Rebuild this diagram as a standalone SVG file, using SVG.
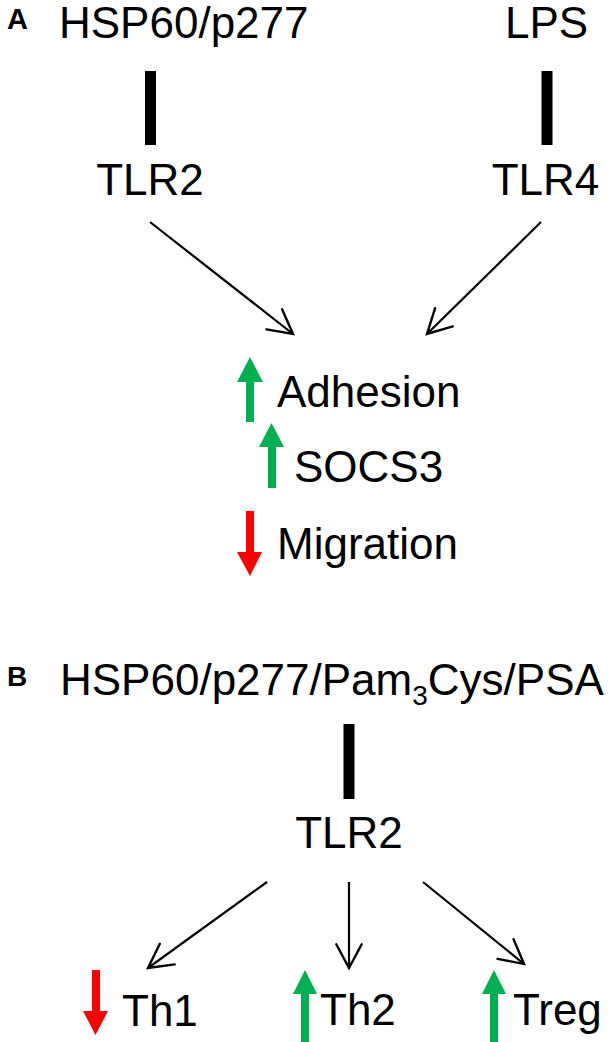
<svg xmlns="http://www.w3.org/2000/svg" width="611" height="1042" viewBox="0 0 611 1042">
<style>
.t{font-family:"Liberation Sans",Arial,sans-serif;font-size:44px;fill:#000}
.lab{font-family:"Liberation Sans",Arial,sans-serif;font-weight:bold;fill:#000}
.con{stroke:#000;stroke-width:2.2;fill:none}
.bar{fill:#000}
.up{fill:#00B050}
.down{fill:#FF0000}
</style>
<defs>
<marker id="ah" markerUnits="userSpaceOnUse" markerWidth="40" markerHeight="40" viewBox="-30 -20 40 40" refX="0" refY="0" orient="auto">
<path d="M-23.8,-12.7 L0,0 L-23.8,12.7" fill="none" stroke="#000" stroke-width="2.4" stroke-linecap="round" stroke-linejoin="miter"/>
</marker>
</defs>
<rect width="611" height="1042" fill="#fff"/>
<g id="panelA-label"><text class="lab" x="7" y="29" font-size="29">A</text></g>
<g id="hsp60"><text class="t" x="59" y="38">HSP60/p277</text></g>
<g id="lps"><text class="t" x="505" y="38">LPS</text></g>
<g id="bar1"><rect class="bar" x="145" y="71" width="11" height="74"/></g>
<g id="bar2"><rect class="bar" x="541.5" y="71" width="11" height="74"/></g>
<g id="tlr2a"><text class="t" x="150" y="195" text-anchor="middle">TLR2</text></g>
<g id="tlr4"><text class="t" x="545.5" y="195" text-anchor="middle">TLR4</text></g>
<g id="adhesion"><polygon class="up" points="250,357 263,382 254,382 254,422 246,422 246,382 237,382"/><text class="t" x="277" y="407">Adhesion</text></g>
<g id="socs3"><polygon class="up" points="271.5,423 284,447 276,447 276,488 268,488 268,447 259,447"/><text class="t" x="294" y="482">SOCS3</text></g>
<g id="migration"><polygon class="down" points="250,576 262,552 254,552 254,511 246,511 246,552 237,552"/><text class="t" x="277" y="559">Migration</text></g>
<g id="panelB-label"><text class="lab" x="7" y="686" font-size="28">B</text></g>
<g id="ligandsB"><text class="t" x="60" y="695">HSP60/p277/Pam<tspan font-size="28" dy="10">3</tspan><tspan dy="-10">Cys/PSA</tspan></text></g>
<g id="bar3"><rect class="bar" x="343.5" y="724" width="11" height="75"/></g>
<g id="tlr2b"><text class="t" x="349" y="848" text-anchor="middle">TLR2</text></g>
<g id="th1"><polygon class="down" points="95.5,1035 108,1011 100,1011 100,970 92,970 92,1011 83,1011"/><text class="t" x="122" y="1026">Th1</text></g>
<g id="th2"><polygon class="up" points="305,970 317,994 309,994 309,1042 301,1042 301,994 293,994"/><text class="t" x="320" y="1025">Th2</text></g>
<g id="treg"><polygon class="up" points="494,970 506,994 498,994 498,1042 490,1042 490,994 482,994"/><text class="t" x="513" y="1025">Treg</text></g>
<g id="connectors">
<line class="con" x1="150" y1="222" x2="293" y2="334" marker-end="url(#ah)"/>
<line class="con" x1="541" y1="222" x2="427" y2="334" marker-end="url(#ah)"/>
<line class="con" x1="267" y1="882" x2="148" y2="968" marker-end="url(#ah)"/>
<line class="con" x1="349" y1="882" x2="349" y2="968" marker-end="url(#ah)"/>
<line class="con" x1="423" y1="882" x2="524" y2="964" marker-end="url(#ah)"/>
</g>
</svg>
